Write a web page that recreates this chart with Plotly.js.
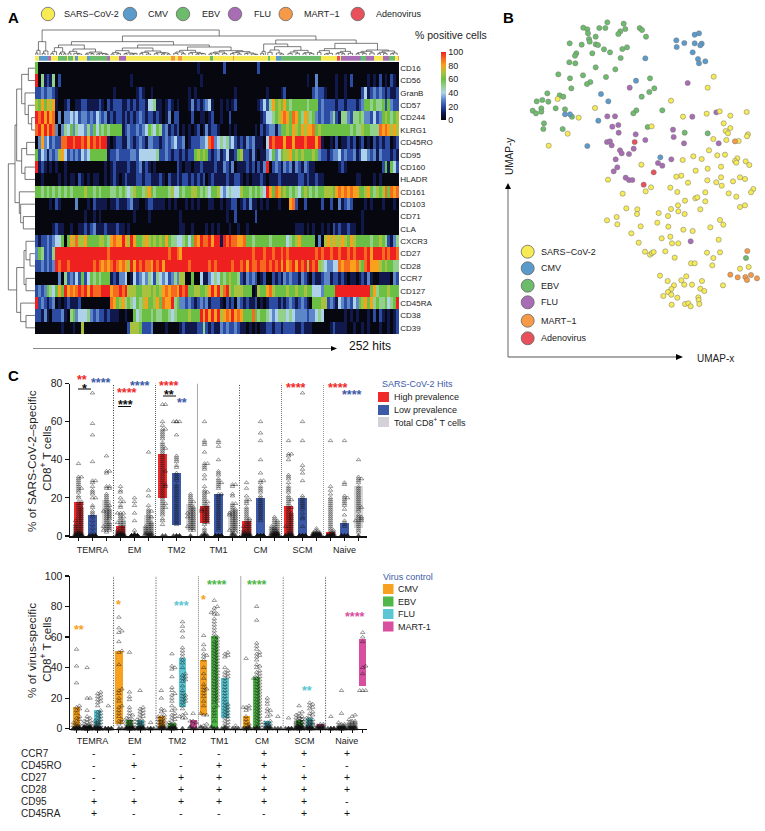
<!DOCTYPE html>
<html><head><meta charset="utf-8">
<script src="https://cdn.plot.ly/plotly-3.0.1.min.js"></script>
<style>html,body{margin:0;padding:0;background:#fff}</style></head>
<body><div id="chart" style="width:765px;height:831px"></div>
<script>
// ---------- Panel A: heat map ----------
const markers=["CD16","CD56","GranB","CD57","CD244","KLRG1","CD45RO","CD95","CD160","HLADR","CD161","CD103","CD71","CLA","CXCR3","CD27","CD28","CCR7","CD127","CD45RA","CD38","CD39"];
// one character per two hits: 0-9 = tens of percent, a = 100
const heatRows=[
"6000000000 0000000000 0000000000 0000000000 0000000000 0000001000 0000020000 0000000200 0000000000 0000000000 0000000000 0000000000 000000",
"a051215020 0000000000 0000000000 0001000000 0000000000 0000000100 0000000000 0000000000 0000000000 0000100300 0000100102 0000010102 010210",
"2232332100 0000000000 0000000100 0000012100 1000000000 0001010000 0000000001 0000000000 1000012000 0000002322 1000100100 0002412323 212112",
"7686878100 1200112211 1121021222 1121212214 4511012101 0001312123 4100101012 0000000124 2586768656 6666566623 2222122122 2123665655 626322",
"a9a8a89030 3343423323 2432312122 1212123212 2121013022 0000200110 1200100200 0000000012 4456789869 8658756323 2235215532 5565332423 676567",
"9a8a8a9303 5463544353 6465656666 1232232346 5465231212 0101012013 1221000101 0000001021 2331366768 7687889676 6666666665 6557665559 898787",
"0383423229 9aa9aa9a8a 9a9aa10122 1132123213 3221232342 2301222334 9a34545342 1213231110 4a9aaa8aa8 aaa9aaa8a1 0010201121 2012010212 122012",
"6243132378 4232324346 6666612232 2223324444 4452232122 1212267676 2123124112 6722131011 3463467786 7676667632 2123342322 3124432313 222121",
"a121010100 1000000000 0000101211 1121123121 0100000002 1011011211 1121132130 1112120213 a023213231 3213211000 0000012100 0000000000 261642",
"0010000010 1011021010 1100101210 1211122122 1112102112 1221212120 1211112112 2101011121 0111211111 1221211211 0000000000 0110000101 000000",
"6656565656 5656666766 5656665565 6545766578 6566665744 6566776565 4667434544 4766565654 a869867656 5467656566 7776898989 8866786576 796989",
"0000010210 0000300010 2111101121 1123110012 2111101010 0010101000 1100101122 0121311010 1000100089 2002000002 0020031232 0000101000 100010",
"0000000000 0000000100 1010000000 0000100001 0000000000 1000000000 0000001002 0000002000 0000000000 0000000000 0000000000 0001000000 000000",
"0000001211 0010011212 3111211121 1010000000 0000000000 1100100001 0101000100 1001000000 0000000000 1110101001 0102121121 1001000000 000000",
"2122323446 0687977866 6677658988 a87a866787 6767686554 4564698a99 a8aa1a9a99 8896656666 6566666456 7866666030 7878778768 7666665667 652135",
"3652325aaa aaaaaaaaaa aaaaa9aaaa aaaaaaaaaa aaaaaa9aa9 8aaaaaaaaa aaaaaaaaaa aaaaa9aaa9 aa9aa9a9aa aaaaaaa9a9 aa9aa9aa9a 9aaa9a8aaa 9a9aa9",
"2232323a9a a9aaaaaaaa 9a98989a98 987a8a9a99 8a9a8aaaaa aaa9aaaaaa 9a9aaaaa9a a9a8a99a99 a9a9a8a89a 8a9a7a9a75 4334498998 89769a8887 676655",
"0000000030 5232426246 5656661213 3401423435 4254342353 7700600411 3454656766 5213232012 0021213232 2132102112 3312212101 1012131001 111032",
"2323654686 a8989a9a8a 999aaa899a 9a77766777 6767898998 a9a6677667 8a8a79a767 7766601766 8976666766 7667664443 6666aaaaaa aaaaaa6856 667666",
"a232123010 1211120000 0000009867 8565465786 6786988a56 3323212323 1222102120 3212112010 1222121232 1232106667 7232143232 4367868565 56456a",
"2213102223 1056344453 2322121110 0100645666 5655665456 6667666a8a 8a8a7898a8 9866696566 5434555454 3333233454 0000000101 0100010202 101012",
"0000000001 0001007000 0000000000 0027776222 3000010000 1211112252 1211323223 2110101011 2212212222 1121110000 0012111100 1001010001 001012"
];
// virus identity strip, as runs [virus code, number of hits]
const stripRuns=[["Y",3],["C",6],["F",2],["Y",5],["E",6],["Y",1],["E",3],["Y",2],["C",2],["Y",6],["C",2],["E",12],["F",2],["Y",6],["F",5],["Y",31],["M",3],["Y",2],["M",3],["Y",19],["E",2],["Y",14],["M",1],["Y",23],["E",2],["Y",4],["C",3],["E",28],["Y",11],["A",2],["Y",1],["F",13],["C",1],["E",3],["F",6],["Y",6],["F",4],["E",4],["Y",2],["M",1]];
// dendrograms: [merge height, child, child]; numbers are leaves
const colTree=[75,
 [40,[14,[6,1,2],1],[12,[5,2,2],2]],
 [57,
  [40,
   [30,[22,[10,[4,2,2],2],[9,[5,2,1],[4,2,1]]],
       [18,[11,[6,2,2],[5,2,[3,3,3]]],[9,[6,[3,2,2],[4,2,2]],[5,[3,2,2],[4,2,[2,2,2]]]]]],
   [30,[21,[13,[7,[3,2,2],[4,2,3]],[6,[4,2,2],[3,2,[5,3,2]]]],[12,[8,[5,2,2],[3,3,3]],[7,[4,2,3],[6,[3,2,2],[3,2,2]]]]],
       [24,[14,[9,[5,3,3],[4,2,3]],[8,[6,2,3],[5,[3,2,2],[4,2,3]]]],
           [13,[9,[6,[3,2,2],[4,3,2]],[4,3,3]],[10,[7,[4,2,3],[3,2,3]],[6,[5,2,2],[3,3,[2,2,2]]]]]]]],
  [45,
   [33,[11,[5,2,2],0.5],[25,[15,[8,3,3],[6,3,[3,2,3]]],[14,[9,[4,3,3],[5,2,3]],[7,[5,2,2],[4,3,3]]]]],
   [35,[19,[13,[8,2,3],[5,[3,2,3],3]],[11,[7,[5,2,2],[4,2,2]],[5,3,3]]],
       [15,[11,[7,[4,2,2],[5,3,2]],[6,3,3]],[12,[8,[4,2,2],[5,2,3]],[6,[4,2,2],3]]]]]]];
const rowTree=[25,
 [45,[50,[65,[85,0,1],[75,2,[85,3,[95,4,5]]]],[65,[80,6,7],[75,8,9]]],[58,10,[62,11,[70,12,13]]]],
 [50,[72,[78,14,[90,15,16]],[78,17,18]],[62,19,[78,20,21]]]];
const virusNames=["SARS-CoV-2","CMV","EBV","FLU","MART-1","Adenovirus"];
const virusCodes=["Y","C","E","F","M","A"];
const virusColors=["#f6ea55","#5b9bcb","#6cbc6c","#a96db5","#f69a48","#e8505c"];
const colorbarTicks=[0,20,40,60,80,100];

// ---------- Panel B: UMAP coordinates ----------
const umapSars=[[701,230],[683,263],[573,302],[233,297],[345,324],[296,353],[515,379],[263,401],[206,437],[609,350],[680,341],[719,334],[751,347],[800,336],[731,370],[751,384],[737,393],[744,400],[700,417],[739,420],[776,423],[804,403],[801,409],[687,451],[712,466],[735,464],[640,469],[665,477],[608,480],[772,475],[765,483],[769,488],[797,484],[808,495],[484,494],[723,500],[683,506],[647,512],[604,527],[589,530],[384,539],[780,532],[795,537],[723,532],[682,541],[709,547],[725,557],[759,544],[624,548],[513,562],[571,563],[820,567],[428,581],[497,574],[592,576],[676,577],[746,580],[769,590],[813,577],[646,595],[652,592],[615,602],[676,604],[594,616],[780,621],[795,616],[439,625],[472,628],[573,627],[595,634],[661,628],[471,642],[536,639],[614,642],[564,648],[410,651],[381,661],[412,673],[720,660],[730,674],[532,668],[482,679],[565,680],[691,682],[610,689],[638,693],[454,700],[545,715],[571,710],[716,719],[476,728],[576,730],[595,730],[495,755],[510,764],[516,759],[521,756],[556,754],[681,758],[720,757],[584,773],[700,774],[633,790],[644,790],[697,796],[780,806],[806,801],[540,827],[563,843],[604,841],[619,829],[582,856],[613,854],[636,854],[666,843],[729,856],[661,866],[673,873],[574,867],[564,876],[574,884],[550,888],[592,893],[655,892],[656,900],[575,914],[615,912],[625,910],[632,919],[658,912]];
const umapCmv=[[589,121],[590,141],[613,129],[644,104],[657,100],[644,130],[665,131],[661,136],[638,157],[654,177],[676,184],[657,190],[496,175],[468,242],[363,282],[385,304],[255,343],[270,343],[355,362],[322,438],[541,472]];
const umapEbv=[[310,83],[322,88],[324,100],[358,84],[376,84],[382,67],[431,71],[436,87],[421,94],[415,102],[479,84],[486,90],[498,110],[347,110],[327,117],[329,125],[269,130],[305,134],[347,133],[354,135],[372,148],[390,157],[427,147],[441,142],[337,160],[289,160],[285,167],[422,174],[268,187],[286,190],[347,202],[406,208],[235,223],[309,226],[270,235],[378,231],[331,246],[321,252],[274,265],[510,235],[523,265],[508,276],[485,290],[202,280],[239,286],[250,290],[187,300],[170,304],[205,305],[184,325],[184,335],[158,332],[168,340],[227,325],[255,328],[276,350],[469,331],[460,340],[547,331],[192,370],[190,387],[248,387],[503,381],[614,398],[683,400],[798,774]];
const umapFlu=[[449,263],[623,249],[382,349],[405,349],[397,380],[415,375],[416,398],[467,403],[496,420],[381,426],[390,424],[395,436],[420,451],[425,460],[447,462],[461,446],[407,478],[412,502],[401,514],[437,533],[447,540],[457,540],[534,489],[547,497],[574,478],[579,389],[581,411],[612,430],[637,350],[709,337],[716,430],[632,724]];
const umapMart=[[765,424],[802,753],[751,824],[773,832],[796,831],[813,825],[801,840],[831,835]];
const umapAdeno=[[464,426],[521,517],[491,554]];

// ---------- Panel C: subset names, bars and per-donor values ----------
const subsets=["TEMRA","EM","TM2","TM1","CM","SCM","Naive"];
const hitNames=["High prevalence","Low prevalence","Total CD8<sup>+</sup> T cells"];
const hitColors=["#f0292b","#3d5aa8","#d4d1d8"];
const hitBarColors=["#f0292b","#3d5aa8","#d8d8d8"];
const hitLow=[0,0,3, 0,0,0, 20,6,3, 7,0,3, 0,0,0, 0,0,0, 0,0,4];
const hitHigh=[18,11,19, 5,0.6,11, 43,33,17, 16,22,13, 8,20,4, 16,20,1, 2,7,26];
const hitValues=[
[38,31,31,30,29,28,27,26,25,25,24,23,21,20,18,18,17,17,16,15,15,14,14,13,13,12,12,11,11,10,10,9,9,8,8,8,7,7,6,6,6,5,5,5,4,4,4,3,3,3,2,2,2,2,1,1,1,1,0,0,0,0,0,0,0,0,0,0],
[75,59,53,39,29,29,28,26,24,23,22,20,20,16,15,13,12,11,10,8,6,4,2,0,0,0,0,0,0,0,0],
[42,34,34,33,26,26,25,25,22,21,20,19,18,17,16,16,15,14,14,13,13,13,12,12,11,11,10,10,9,9,8,7,7,6,6,5,5,5,4,4,3,3,3,2],
[26,24,23,20,18,18,16,15,12,12,12,11,10,10,9,8,8,7,7,7,6,6,5,5,4,4,3,3,3,2,2,2,1,1,1,1,0,0,0,0,0,0,0,0,0,0,0,0],
[20,18,16,12,8,3,1,0,0,0,0,0,0,0,0,0,0,0,0,0,0],
[44,24,21,16,14,13,13,12,11,10,10,9,8,7,7,6,6,5,5,5,4,4,4,3,3,3,2,2,2,1,1,1,0,0],
[69,69,60,58,56,56,55,54,53,52,51,49,48,47,46,46,45,44,43,42,41,40,39,38,37,36,35,34,34,33,32,31,30,29,28,27,27,26,26,25,24,23,22,21,20,19,18,17,17,16,15,15,14,13,12,11,9,8,6,0,0],
[60,60,60,60,53,42,41,40,39,37,36,33,32,31,30,29,27,26,25,24,23,22,21,20,19,18,17,16,15,14,13,12,11,10,9,8,7,6,0,0,0,0,0],
[22,21,20,19,18,18,17,16,15,15,14,14,13,13,12,12,12,11,11,10,10,10,9,9,8,8,7,7,6,6,5,5,5,4,4,3,3,0],
[60,50,49,48,44,38,38,37,36,35,32,30,26,24,23,23,22,21,20,19,18,18,17,16,16,15,15,14,14,14,13,13,13,12,12,11,11,10,10,9,9,8,8,7,7,6,4,3,2,1,0,0,0,0],
[50,49,47,40,34,33,32,30,29,28,28,27,26,25,22,22,21,20,19,18,17,16,15,14,13,12,11,10,9,8,7,6,5,4,3,0,0,0,0,0,0,0,0,0,0],
[27,27,26,22,21,17,17,16,15,14,14,13,13,12,12,12,11,11,11,10,10,9,9,8,8,7,7,6,6,5,5,4,4,3,3,3,2,2,1,0,0],
[28,25,21,19,19,18,17,15,14,13,12,11,10,9,9,8,8,7,7,6,6,5,5,5,4,4,3,3,3,2,2,2,1,1,1,0,0,0,0,0,0,0,0],
[60,54,50,40,33,29,29,28,26,25,24,23,21,20,19,18,17,16,15,14,13,12,11,10,9,8,0,0,0,0,0,0,0,0,0,0,0,0],
[10,9,8,8,7,7,6,6,5,5,5,4,4,4,4,3,3,3,3,2,2,2,2,2,1,1,1,1,1,0,0,0,0,0],
[50,43,43,42,40,32,31,30,28,26,25,24,23,21,20,19,19,18,17,16,15,15,14,13,12,12,11,11,10,10,9,9,8,8,7,7,6,6,5,5,5,4,4,3,3,2,2,1,1,0,0,0,0,0,0,0,0],
[75,60,50,37,35,33,29,21,20,19,18,17,16,15,14,12,10,9,5,0,0,0,0,0,0,0,0,0,0],
[4,3,2,2,2,2,1,1,1,1,1,1,0,0,0,0,0,0,0,0,0,0],
[50,26,24,22,20,19,18,17,16,15,14,13,12,11,10,9,8,7,6,5,4,3,3,2,2,1,1,0,0,0,0,0,0,0],
[50,28,27,21,20,20,19,18,17,16,14,11,8,7,6,5,0,0,0,0,0,0],
[40,31,30,30,29,28,26,25,24,23,22,21,20,19,18,17,16,15,15,14,13,11,10,10,9,9,8,8,8,7,6,5,4,3,2,0]];
const virusCtlNames=["CMV","EBV","FLU","MART-1"];
const virusCtlColors=["#f7a11e","#4fb848","#5cc6d2","#d94f9f"];
const ctlLow=[0,0,0,0, 3,0,0,0, 0,0,14,0, 9,0,7,0, 0,0,0,0, 0,0,0,0, 0,0,0,28];
const ctlHigh=[14,2,12,0, 51,6,6,0, 8,4,46,6, 45,61,33,0, 8,34,5,0, 0,6,7,3, 0,2,2,59];
const ctlValues=[
[52,41,30,15,14,13,12,10,8,7,6,5,4,3,3,2,2,1,1,0,0,0,0,0,0],
[40,20,20,12,8,7,6,5,5,4,3,3,2,2,2,1,1,1,1,1,0,0,0,0,0,0,0,0,0,0],
[24,23,22,21,20,19,18,17,15,12,11,10,9,8,7,6,5,5,4,4,3,3,2,2,1,1,0,0,0,0,0,0,0,0],
[15,0,0,0,0,0,0],
[73,66,64,63,57,51,50,42,26,25,23,20,18,15,14,12,10,8,6,5,4,3,0,0],
[50,24,21,19,14,12,10,9,8,7,6,6,5,5,4,4,3,3,2,2,1,1,1,0,0,0,0,0,0,0,0],
[25,14,13,12,11,10,9,8,7,6,5,5,4,4,3,3,2,2,1,1,0,0,0,0,0,0],
[4,0,0,0,0],
[25,20,13,12,11,9,8,8,7,6,6,5,5,4,4,3,3,2,2,1,1,0,0,0],
[49,41,40,39,34,27,25,23,22,20,18,15,13,12,10,9,8,7,6,5,4,3,3,2,2,1,1,0,0,0,0,0,0],
[70,67,64,60,53,51,49,47,45,43,40,36,35,34,33,32,31,28,25,23,22,21,20,19,18,17,15,13,10,9,8,7,7,0],
[10,5,5,4,3,1,0,0],
[61,55,52,49,48,47,45,40,36,33,29,27,26,25,23,21,18,15,10,9,9,3,2,1,0,0],
[84,80,79,77,76,75,75,72,70,68,66,64,62,60,60,58,57,56,55,54,53,52,51,50,49,48,47,46,45,44,43,42,41,40,39,38,37,36,35,34,33,32,31,30,29,28,27,26,25,24,23,22,21,20,19,18,17,15,14,12,10,8,5,1,0,0],
[50,49,48,47,40,38,37,36,35,34,33,31,29,27,25,23,21,19,17,16,15,14,13,12,11,10,9,8,7,6,5,4,3,2,1,0,0,0],
[2,0,0,0],
[46,15,14,14,13,12,8,6,4,3,2,1,0,0,0,0],
[80,71,56,54,52,50,49,48,47,45,42,41,40,38,37,36,35,34,33,33,32,31,30,29,28,27,26,25,24,23,22,21,20,19,18,17,16,15,14,13,12,11,10,9,8,7,6,5,4,3,2,1,0,0,0],
[20,18,16,13,12,11,9,8,5,4,4,3,3,2,2,1,1,0,0,0],
[8,0,0,0],
[7,0,0,0,0,0],
[15,11,10,9,8,8,7,7,6,6,5,5,5,4,4,4,3,3,3,2,2,2,2,1,1,1,1,0,0,0,0,0,0],
[17,16,15,14,13,11,10,9,8,7,6,6,5,5,4,4,3,3,3,2,2,1,1,0,0,0,0,0],
[3,3,2,2,2,1,1,1,0,0,0],
[8,0,0,0,0,0],
[25,10,4,3,3,2,2,2,1,1,1,0,0,0,0,0,0,0],
[9,8,6,5,5,4,4,4,3,3,3,2,2,2,1,1,1,0,0,0],
[63,60,57,41,40,36,25,25,25]];
// phenotype table
const tableMarkers=["CCR7","CD45RO","CD27","CD28","CD95","CD45RA"];
const tableSigns=["----+++","-+-++--","--+++++","--+++++","++++++-","+----++"];

// ---------- helpers: page pixels to paper fractions ----------
const W=765,H=831;
const px=x=>x/W, py=y=>1-y/H;
const domX=(a,b)=>[px(a),px(b)], domY=(t,b)=>[py(b),py(t)];
const FONT='"Liberation Sans", Arial, sans-serif';
const annotations=[],shapes=[];
function text(x,y,s,o={}){annotations.push({xref:'paper',yref:'paper',x:px(x),y:py(y),text:s,showarrow:false,
  xanchor:o.anchor||'left',yanchor:'middle',textangle:o.angle||0,
  font:{family:FONT,size:o.size||9,color:o.color||'#222',weight:o.bold?700:400}});}
function dot(x,y,d,c){shapes.push({type:'circle',xref:'paper',yref:'paper',x0:px(x-d/2),x1:px(x+d/2),y0:py(y+d/2),y1:py(y-d/2),
  fillcolor:c,line:{color:'#666',width:0.8}});}
function swatch(x0,x1,y0,y1,c){shapes.push({type:'rect',xref:'paper',yref:'paper',x0:px(x0),x1:px(x1),y0:py(y1),y1:py(y0),fillcolor:c,line:{width:0}});}
function line(x0,y0,x1,y1,c,w,dash){shapes.push({type:'line',xref:'paper',yref:'paper',x0:px(x0),x1:px(x1),y0:py(y0),y1:py(y1),line:{color:c,width:w,dash:dash||'solid'}});}
// arrow head as a filled triangle: tip at (x,y), pointing along (ux,uy)
function head(x,y,ux,uy,len,wid){
  const bx=x-ux*len,by=y-uy*len,nx=-uy*wid/2,ny=ux*wid/2;
  shapes.push({type:'path',xref:'paper',yref:'paper',
    path:`M ${px(x)} ${py(y)} L ${px(bx+nx)} ${py(by+ny)} L ${px(bx-nx)} ${py(by-ny)} Z`,fillcolor:'#000',line:{width:0}});
}
function stars(x,y,s,c){text(x,y+3,s,{anchor:'center',size:12.5,color:c,bold:true});}

const traces=[];
// heat map
const nRows=markers.length;
const z=heatRows.map(r=>r.replace(/ /g,'').split('').map(c=>c==='a'?100:+c*10));
const nCols=z[0].length;
const heatX=z[0].map((_,i)=>(i+0.5)*252/nCols);
const rowY=markers.map((_,i)=>i+0.5);
traces.push({type:'heatmap',xaxis:'x',yaxis:'y',x:heatX,y:rowY,z:z,zmin:0,zmax:100,zsmooth:false,hoverinfo:'skip',
 colorscale:[[0,'#07070f'],[0.1,'#10184c'],[0.2,'#2c4ba2'],[0.3,'#5d86c8'],[0.4,'#aed2ea'],[0.5,'#93d08c'],[0.6,'#6cbf45'],[0.7,'#a9c23e'],[0.8,'#f9a11d'],[0.9,'#f66a20'],[1,'#ee2020']],
 colorbar:{x:px(441.5),xanchor:'left',y:py(86),yanchor:'middle',len:68,lenmode:'pixels',thickness:4.5,thicknessmode:'pixels',outlinewidth:0,
   tickvals:colorbarTicks,ticks:'',tickfont:{family:FONT,size:9,color:'#222'},ypad:0,xpad:0}});
// identity strip
const strip=[];stripRuns.forEach(([c,n])=>{for(let i=0;i<n;i++)strip.push(virusCodes.indexOf(c));});
const ncl=virusColors.length;
traces.push({type:'heatmap',xaxis:'x2',yaxis:'y2',z:[strip],x:strip.map((_,i)=>(i+0.5)*252/strip.length),y:[0],zmin:0,zmax:ncl-1,showscale:false,hoverinfo:'skip',
 colorscale:virusColors.flatMap((c,i)=>[[i/ncl,c],[(i+1)/ncl,c]])});
// dendrogram drawing
function walk(n,leaf,h0,X,Y){
  if(typeof n==='number')return{p:leaf(n),h:h0};
  const [h,...kids]=n;const rs=kids.map(k=>walk(k,leaf,h0,X,Y));
  rs.forEach(r=>{X.push(r.p,r.p,null);Y.push(r.h,h,null);});
  const ps=rs.map(r=>r.p);X.push(Math.min(...ps),Math.max(...ps),null);Y.push(h,h,null);
  return{p:ps.reduce((a,b)=>a+b,0)/ps.length,h:h};
}
function sumLeaves(n){return typeof n==='number'?n:n.slice(1).reduce((a,k)=>a+sumLeaves(k),0);}
const totalW=sumLeaves(colTree);let cursor=0;
const cX=[],cY=[];walk(colTree,w=>{const p=cursor+w/2;cursor+=w;return p*252/totalW;},0,cX,cY);
traces.push({type:'scatter',mode:'lines',xaxis:'x3',yaxis:'y3',x:cX,y:cY,line:{color:'#444',width:0.7},hoverinfo:'skip'});
const rX=[],rY=[];walk(rowTree,i=>i+0.5,105,rY,rX);
traces.push({type:'scatter',mode:'lines',xaxis:'x4',yaxis:'y4',x:rX,y:rY,line:{color:'#555',width:0.8},hoverinfo:'skip'});
// UMAP
[[umapEbv,2],[umapCmv,1],[umapFlu,3],[umapSars,0],[umapMart,4],[umapAdeno,5]].forEach(([pts,c])=>{
  traces.push({type:'scatter',mode:'markers',xaxis:'x5',yaxis:'y5',x:pts.map(p=>p[0]),y:pts.map(p=>p[1]),hoverinfo:'skip',
    marker:{size:5.2,color:virusColors[c],line:{color:'#777',width:0.5}}});
});
// bee-swarm offset in bar units so the triangles cluster inside the bar width
function swarm(vals,pxPerX,pxPerY,half){
  const placed=[],xs=[];const sorted=vals.slice().sort((a,b)=>a-b);
  sorted.forEach(v=>{
    const yy=v*pxPerY;let best=0,bestN=1e9,done=false;
    const n0=Math.floor(half/1.5)*2;
    for(let k=0;k<=n0&&!done;k++){
      const off=(k%2?1:-1)*Math.ceil(k/2)*1.5;
      const n=placed.filter(p=>Math.abs(p[0]-off)<2.9&&Math.abs(p[1]-yy)<1.7).length;
      if(n===0){best=off;done=true;}else if(n<bestN){bestN=n;best=off;}
    }
    placed.push([best,yy]);xs.push(best/pxPerX);
  });
  return{x:xs,y:sorted};
}
function panel(low,high,colors,values,ax,ay,pxPerX,pxPerY,half,mk){
  const idx=low.map((_,i)=>i);
  traces.push({type:'bar',xaxis:ax,yaxis:ay,x:idx,y:high.map((h,i)=>h-low[i]),base:low,width:0.68,hoverinfo:'skip',
    marker:{color:idx.map(i=>colors[i%colors.length]),line:{width:0}}});
  const X=[],Y=[];
  values.forEach((v,i)=>{const s=swarm(v,pxPerX,pxPerY,half);s.x.forEach((o,j)=>{X.push(i+o);Y.push(s.y[j]);});});
  traces.push({type:'scatter',mode:'markers',xaxis:ax,yaxis:ay,x:X,y:Y,cliponaxis:false,hoverinfo:'skip',
    marker:{symbol:Y.map(v=>v<=1?'triangle-up':'triangle-up-open'),size:Y.map(v=>v<=1?5:mk),color:'#111',line:{color:'#111',width:0.6}}});
}
panel(hitLow,hitHigh,hitBarColors,hitValues,'x6','y6',14,152.5/80,5,3.9);
panel(ctlLow,ctlHigh,virusCtlColors,ctlValues,'x7','y7',10.6,152.7/100,4,3.9);

// text and furniture
text(6,17.5,'A',{size:15,bold:true,color:'#000'});
text(500.5,17.5,'B',{size:15,bold:true,color:'#000'});
text(6,375,'C',{size:15,bold:true,color:'#000'});
const topDotX=[48,130,183,235,285.7,357.7],topLabelX=[62,146,200,251.7,301.7,374];
virusNames.forEach((n,i)=>{dot(topDotX[i],14,13.5,virusColors[i]);text(topLabelX[i],14,n.replace('-','−'),{size:9});});
text(413,34.5,'% positive cells',{size:10.5});
line(33,348.5,332,348.5,'#888',1);head(337,348.5,1,0,6,5);
text(346.5,346.5,'252 hits',{size:12,color:'#111'});
// UMAP axes and legend
line(508,357,508,188,'#888',1.3);head(508,183,0,-1,6,6);
line(508,357,676,357,'#555',1.2);head(683,357,1,0,7,6);
text(695,358,'UMAP-x',{size:10});
text(509,157,'UMAP-y',{size:10,angle:-90,anchor:'center'});
const umapLegY=[251.7,268.3,285.7,302.3,320.7,338.3];
virusNames.forEach((n,i)=>{dot(527.7,umapLegY[i],13,virusColors[i]);text(539,umapLegY[i],n.replace('-','−'),{size:9});});
// panel C furniture
const hitDiv=[2.5,5.5,8.5,11.5,14.5,17.5];
const hitDivStyle=[['#333','1px,1.5px'],['#666','1px,1px'],['#aaa','solid'],['#444','1px,1.5px'],['#777','1px,1px'],['#999','1px,1px']];
const ctlDiv=[3.5,7.5,11.5,15.5,19.5,23.5];
const ctlDivStyle=[['#333','1px,1.5px'],['#444','1px,1.5px'],['#777','1px,1px'],['#aaa','solid'],['#555','1px,1.5px'],['#333','1px,1.5px']];
hitDiv.forEach((v,i)=>shapes.push({type:'line',xref:'x6',yref:'y6',x0:v,x1:v,y0:0,y1:80,line:{color:hitDivStyle[i][0],width:1,dash:hitDivStyle[i][1]}}));
ctlDiv.forEach((v,i)=>shapes.push({type:'line',xref:'x7',yref:'y7',x0:v,x1:v,y0:0,y1:100,line:{color:ctlDivStyle[i][0],width:1,dash:ctlDivStyle[i][1]}}));
stars(82,377,'**','#f0292b');stars(101,380,'****','#3d5aa8');
line(78,389,91,389,'#555',1.5);stars(84,386,'*','#111');
stars(127,390,'****','#f0292b');stars(140,383,'****','#3d5aa8');
line(118,406.5,131,406.5,'#111',1);stars(125,401.5,'***','#111');
stars(169,383,'****','#f0292b');line(163,396,176,396,'#111',1);stars(169,391.5,'**','#111');stars(182,400,'**','#3d5aa8');
stars(296,385,'****','#f0292b');stars(338,385,'****','#f0292b');stars(352,392,'****','#3d5aa8');
stars(79,627,'**',virusCtlColors[0]);stars(118,602,'*',virusCtlColors[0]);stars(181,603,'***',virusCtlColors[2]);
stars(203,597,'*',virusCtlColors[0]);stars(217,582,'****',virusCtlColors[1]);stars(257,582,'****',virusCtlColors[1]);
stars(307,688,'**',virusCtlColors[2]);stars(355,614,'****',virusCtlColors[3]);
text(380,384,'SARS-CoV-2 Hits',{size:9,color:'#3d5aa8'});
[397,410,422].forEach((y,i)=>{swatch(378,389,y-5,y+5,hitColors[i]);text(392,y,hitNames[i],{size:9});});
text(381,577,'Virus control',{size:9,color:'#3d5aa8'});
[589,601.5,614,626.5].forEach((y,i)=>{swatch(383,393.5,y-5,y+5,virusCtlColors[i]);text(396,y,virusCtlNames[i],{size:9});});
// axis titles
text(32,461,'% of SARS-CoV-2–specific',{size:11.8,angle:-90,anchor:'center'});
text(46,459,'CD8<sup>+</sup> T cells',{size:11.8,angle:-90,anchor:'center'});
text(32,650,'% of virus-specific',{size:11.8,angle:-90,anchor:'center'});
text(46,650,'CD8<sup>+</sup> T cells',{size:11.8,angle:-90,anchor:'center'});
const tableX=[94,134,181,219,263.6,304,347];
tableMarkers.forEach((m,r)=>{const y=753+12*r;text(19,y,m,{size:10});
  subsets.forEach((_,c)=>text(tableX[c],y,tableSigns[r][c],{size:10.5,anchor:'center',color:'#111'}));});

const noAxis={visible:false,fixedrange:true};
const tickFont={family:FONT,size:10.5,color:'#222'};
const layout={width:W,height:H,margin:{l:0,r:0,t:0,b:0},paper_bgcolor:'#fff',plot_bgcolor:'rgba(0,0,0,0)',showlegend:false,
 font:{family:FONT},annotations,shapes,bargap:0,barmode:'overlay',
 xaxis:{...noAxis,domain:domX(35,399.3),range:[0,252]},
 yaxis:{domain:domY(62,334),range:[nRows,0],tickmode:'array',tickvals:rowY,ticktext:markers,side:'right',anchor:'x',ticks:'',ticklen:0,showline:false,showgrid:false,zeroline:false,tickfont:{family:FONT,size:8,color:'#222'}},
 xaxis2:{...noAxis,domain:domX(35,399.3),range:[0,252],anchor:'y2'},
 yaxis2:{...noAxis,domain:domY(55.7,61),anchor:'x2',range:[-0.5,0.5]},
 xaxis3:{...noAxis,domain:domX(35,399.3),range:[0,252],anchor:'y3'},
 yaxis3:{...noAxis,domain:domY(28,55),range:[0,81],anchor:'x3'},
 xaxis4:{...noAxis,domain:domX(0,35),range:[0,105],anchor:'y4'},
 yaxis4:{...noAxis,domain:domY(62,334),range:[nRows,0],anchor:'x4'},
 xaxis5:{...noAxis,domain:domX(480,765),range:[0,855],anchor:'y5'},
 yaxis5:{...noAxis,domain:domY(0,380),range:[1140,0],anchor:'x5'},
 xaxis6:{domain:domX(70,367),range:[(70-78.5)/14,(367-78.5)/14],anchor:'y6',showline:true,linewidth:1.5,linecolor:'#111',showgrid:false,zeroline:false,
   tickmode:'array',tickvals:[1,4,7,10,13,16,19],ticktext:subsets,ticks:'outside',ticklen:5,tickwidth:1,tickcolor:'rgba(0,0,0,0)',tickfont:{family:FONT,size:9,color:'#222'},
   minor:{tickmode:'array',tickvals:hitLow.map((_,i)=>i),ticks:'outside',ticklen:3,tickwidth:1,tickcolor:'#111'}},
 yaxis6:{domain:domY(383.5,536),range:[0,80],anchor:'x6',showline:true,linewidth:1.5,linecolor:'#111',showgrid:false,zeroline:false,tickvals:[0,20,40,60,80],ticks:'outside',ticklen:4,tickwidth:1.2,tickcolor:'#111',tickfont:tickFont},
 xaxis7:{domain:domX(70,367),range:[(70-76.5)/10.6,(367-76.5)/10.6],anchor:'y7',showline:true,linewidth:1.5,linecolor:'#111',showgrid:false,zeroline:false,
   tickmode:'array',tickvals:[1.5,5.5,9.5,13.5,17.5,21.5,25.5],ticktext:subsets,ticks:'outside',ticklen:3,tickcolor:'rgba(0,0,0,0)',tickfont:{family:FONT,size:9,color:'#222'},
   minor:{tickmode:'array',tickvals:ctlLow.map((_,i)=>i),ticks:'outside',ticklen:3,tickwidth:1,tickcolor:'#111'}},
 yaxis7:{domain:domY(576,728.7),range:[0,100],anchor:'x7',showline:true,linewidth:1.5,linecolor:'#111',showgrid:false,zeroline:false,tickvals:[0,20,40,60,80,100],ticks:'outside',ticklen:4,tickwidth:1.2,tickcolor:'#111',tickfont:tickFont}
};
Plotly.newPlot('chart',traces,layout,{displayModeBar:false,staticPlot:true});
</script></body></html>
